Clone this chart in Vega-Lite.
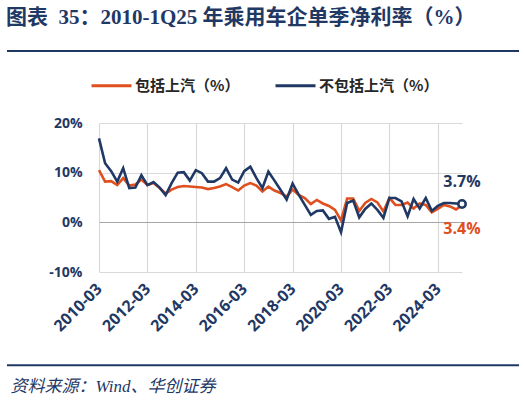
{
  "$schema": "https://vega.github.io/schema/vega-lite/v6.json",
  "background": "white",
  "padding": {"left": 5, "right": 7, "top": 7, "bottom": 3},
  "width": 363,
  "height": 149,
  "title": {
    "text": "图表\u00a0\u00a035：2010-1Q25 年乘用车企单季净利率（%）",
    "anchor": "start",
    "frame": "bounds",
    "font": "Liberation Serif, Noto Sans CJK SC",
    "fontSize": 21,
    "fontWeight": "bold",
    "color": "#1F3864",
    "offset": 13
  },
  "config": {"view": {"stroke": null}},
  "layer": [
    {
      "data": {"values": [{}]},
      "mark": {"type": "rule", "color": "#1F3864", "strokeWidth": 2, "opacity": 0},
      "encoding": {
        "x": {"datum": {"year": 2006, "month": 5, "date": 12}, "type": "temporal"},
        "x2": {"datum": {"year": 2027, "month": 7, "date": 10}},
        "y": {"datum": 36.5, "type": "quantitative"}
      }
    },
    {
      "data": {"values": [{}]},
      "mark": {"type": "rule", "color": "#1F3864", "strokeWidth": 2},
      "encoding": {
        "x": {"datum": {"year": 2006, "month": 5, "date": 12}, "type": "temporal"},
        "x2": {"datum": {"year": 2027, "month": 7, "date": 10}},
        "y": {"datum": 34.5, "type": "quantitative"}
      }
    },
    {
      "data": {"values": [{}]},
      "mark": {"type": "rule", "color": "#1F3864", "strokeWidth": 2},
      "encoding": {
        "x": {"datum": {"year": 2006, "month": 5, "date": 12}, "type": "temporal"},
        "x2": {"datum": {"year": 2027, "month": 7, "date": 10}},
        "y": {"datum": -28.8, "type": "quantitative"}
      }
    },
    {
      "data": {
        "format": {"parse": {"date": "date:'%Y-%m'"}},
        "values": [
          {"date": "2010-03", "包括上汽（%）": 10.5, "不包括上汽（%）": 16.9},
          {"date": "2010-06", "包括上汽（%）": 8.2, "不包括上汽（%）": 11.9},
          {"date": "2010-09", "包括上汽（%）": 8.3, "不包括上汽（%）": 10.3},
          {"date": "2010-12", "包括上汽（%）": 7.5, "不包括上汽（%）": 8.2},
          {"date": "2011-03", "包括上汽（%）": 8.9, "不包括上汽（%）": 10.9},
          {"date": "2011-06", "包括上汽（%）": 7.4, "不包括上汽（%）": 6.9},
          {"date": "2011-09", "包括上汽（%）": 7.6, "不包括上汽（%）": 7.0},
          {"date": "2011-12", "包括上汽（%）": 8.6, "不包括上汽（%）": 9.5},
          {"date": "2012-03", "包括上汽（%）": 7.5, "不包括上汽（%）": 7.5},
          {"date": "2012-06", "包括上汽（%）": 7.9, "不包括上汽（%）": 8.1},
          {"date": "2012-09", "包括上汽（%）": 6.9, "不包括上汽（%）": 7.0},
          {"date": "2012-12", "包括上汽（%）": 5.8, "不包括上汽（%）": 5.5},
          {"date": "2013-03", "包括上汽（%）": 6.6, "不包括上汽（%）": 7.9},
          {"date": "2013-06", "包括上汽（%）": 7.1, "不包括上汽（%）": 10.0},
          {"date": "2013-09", "包括上汽（%）": 7.3, "不包括上汽（%）": 10.1},
          {"date": "2013-12", "包括上汽（%）": 7.2, "不包括上汽（%）": 8.4},
          {"date": "2014-03", "包括上汽（%）": 7.1, "不包括上汽（%）": 10.5},
          {"date": "2014-06", "包括上汽（%）": 7.0, "不包括上汽（%）": 9.9},
          {"date": "2014-09", "包括上汽（%）": 6.7, "不包括上汽（%）": 8.2},
          {"date": "2014-12", "包括上汽（%）": 6.9, "不包括上汽（%）": 8.2},
          {"date": "2015-03", "包括上汽（%）": 7.2, "不包括上汽（%）": 8.9},
          {"date": "2015-06", "包括上汽（%）": 7.7, "不包括上汽（%）": 10.9},
          {"date": "2015-09", "包括上汽（%）": 7.1, "不包括上汽（%）": 8.6},
          {"date": "2015-12", "包括上汽（%）": 6.4, "不包括上汽（%）": 8.0},
          {"date": "2016-03", "包括上汽（%）": 7.4, "不包括上汽（%）": 10.3},
          {"date": "2016-06", "包括上汽（%）": 7.9, "不包括上汽（%）": 11.2},
          {"date": "2016-09", "包括上汽（%）": 7.4, "不包括上汽（%）": 8.9},
          {"date": "2016-12", "包括上汽（%）": 6.2, "不包括上汽（%）": 6.9},
          {"date": "2017-03", "包括上汽（%）": 7.2, "不包括上汽（%）": 10.2},
          {"date": "2017-06", "包括上汽（%）": 6.4, "不包括上汽（%）": 8.4},
          {"date": "2017-09", "包括上汽（%）": 5.9, "不包括上汽（%）": 6.5},
          {"date": "2017-12", "包括上汽（%）": 5.2, "不包括上汽（%）": 4.6},
          {"date": "2018-03", "包括上汽（%）": 6.6, "不包括上汽（%）": 7.8},
          {"date": "2018-06", "包括上汽（%）": 5.5, "不包括上汽（%）": 5.6},
          {"date": "2018-09", "包括上汽（%）": 4.9, "不包括上汽（%）": 3.5},
          {"date": "2018-12", "包括上汽（%）": 3.7, "不包括上汽（%）": 1.5},
          {"date": "2019-03", "包括上汽（%）": 4.5, "不包括上汽（%）": 2.3},
          {"date": "2019-06", "包括上汽（%）": 3.8, "不包括上汽（%）": 2.4},
          {"date": "2019-09", "包括上汽（%）": 3.3, "不包括上汽（%）": 0.7},
          {"date": "2019-12", "包括上汽（%）": 2.5, "不包括上汽（%）": 1.1},
          {"date": "2020-03", "包括上汽（%）": 0.4, "不包括上汽（%）": -2.0},
          {"date": "2020-06", "包括上汽（%）": 4.8, "不包括上汽（%）": 3.9},
          {"date": "2020-09", "包括上汽（%）": 4.8, "不包括上汽（%）": 4.4},
          {"date": "2020-12", "包括上汽（%）": 2.3, "不包括上汽（%）": 1.0},
          {"date": "2021-03", "包括上汽（%）": 3.9, "不包括上汽（%）": 2.7},
          {"date": "2021-06", "包括上汽（%）": 4.7, "不包括上汽（%）": 3.8},
          {"date": "2021-09", "包括上汽（%）": 4.0, "不包括上汽（%）": 2.5},
          {"date": "2021-12", "包括上汽（%）": 2.2, "不包括上汽（%）": 0.9},
          {"date": "2022-03", "包括上汽（%）": 4.9, "不包括上汽（%）": 4.9},
          {"date": "2022-06", "包括上汽（%）": 3.5, "不包括上汽（%）": 4.9},
          {"date": "2022-09", "包括上汽（%）": 3.5, "不包括上汽（%）": 4.2},
          {"date": "2022-12", "包括上汽（%）": 4.0, "不包括上汽（%）": 1.2},
          {"date": "2023-03", "包括上汽（%）": 2.8, "不包括上汽（%）": 4.7},
          {"date": "2023-06", "包括上汽（%）": 3.8, "不包括上汽（%）": 2.8},
          {"date": "2023-09", "包括上汽（%）": 3.5, "不包括上汽（%）": 4.9},
          {"date": "2023-12", "包括上汽（%）": 2.0, "不包括上汽（%）": 2.3},
          {"date": "2024-03", "包括上汽（%）": 2.7, "不包括上汽（%）": 3.3},
          {"date": "2024-06", "包括上汽（%）": 3.5, "不包括上汽（%）": 3.9},
          {"date": "2024-09", "包括上汽（%）": 3.2, "不包括上汽（%）": 3.9},
          {"date": "2024-12", "包括上汽（%）": 2.6, "不包括上汽（%）": 3.8},
          {"date": "2025-03", "包括上汽（%）": 3.4, "不包括上汽（%）": 3.7}
        ]
      },
      "transform": [{"fold": ["包括上汽（%）", "不包括上汽（%）"], "as": ["series", "value"]}],
      "encoding": {
        "x": {
          "field": "date",
          "type": "temporal",
          "scale": {"domain": [{"year": 2010, "month": 3, "date": 1}, {"year": 2025, "month": 3, "date": 1}], "nice": false},
          "axis": {
            "title": "资料来源：Wind、华创证券",
            "titleX": -89,
            "titleY": 114,
            "titleAlign": "left",
            "titleBaseline": "middle",
            "titleFont": "Liberation Serif, Noto Sans CJK SC",
            "titleFontSize": 17,
            "titleFontStyle": "italic",
            "titleFontWeight": "normal",
            "titleColor": "#1F3864",
            "values": [
              {"year": 2010, "month": 3, "date": 1}, {"year": 2011, "month": 3, "date": 1},
              {"year": 2012, "month": 3, "date": 1}, {"year": 2013, "month": 3, "date": 1},
              {"year": 2014, "month": 3, "date": 1}, {"year": 2015, "month": 3, "date": 1},
              {"year": 2016, "month": 3, "date": 1}, {"year": 2017, "month": 3, "date": 1},
              {"year": 2018, "month": 3, "date": 1}, {"year": 2019, "month": 3, "date": 1},
              {"year": 2020, "month": 3, "date": 1}, {"year": 2021, "month": 3, "date": 1},
              {"year": 2022, "month": 3, "date": 1}, {"year": 2023, "month": 3, "date": 1},
              {"year": 2024, "month": 3, "date": 1}, {"year": 2025, "month": 3, "date": 1}
            ],
            "labelExpr": "year(datum.value) % 2 === 0 && year(datum.value) < 2025 ? timeFormat(datum.value, '%Y-%m') : ''",
            "labelAngle": -45,
            "labelAlign": "right",
            "labelBaseline": "middle",
            "labelFont": "Open Sans",
            "labelFontSize": 16,
            "labelFontWeight": "bold",
            "labelColor": "#1F3864",
            "labelPadding": 14,
            "labelOverlap": false,
            "labelFlush": false,
            "labelBound": false,
            "ticks": false,
            "domain": false,
            "grid": true,
            "gridColor": "#D9D9D9",
            "gridWidth": 1.2
          }
        },
        "y": {
          "field": "value",
          "type": "quantitative",
          "scale": {"domain": [-10, 20], "nice": false},
          "axis": {
            "title": null,
            "values": [-10, 0, 10, 20],
            "labelExpr": "datum.value + '%'",
            "labelFont": "Open Sans",
            "labelFontSize": 14,
            "labelFontWeight": "bold",
            "labelColor": "#1F3864",
            "labelPadding": 17,
            "ticks": false,
            "domain": false,
            "grid": true,
            "gridColor": {"condition": {"test": "datum.value === 0", "value": "#A6A6A6"}, "value": "#D9D9D9"},
            "gridWidth": 1.2
          }
        }
      },
      "layer": [
        {
          "mark": {"type": "line", "strokeWidth": 2.6},
          "encoding": {
            "color": {
              "field": "series",
              "type": "nominal",
              "scale": {"domain": ["包括上汽（%）", "不包括上汽（%）"], "range": ["#E0501E", "#1F3864"]},
              "legend": {
                "orient": "none",
                "direction": "horizontal",
                "legendX": -9,
                "legendY": -59,
                "title": null,
                "padding": 0,
                "symbolType": "stroke",
                "symbolSize": 1600,
                "symbolStrokeWidth": 3,
                "labelFont": "Noto Sans CJK SC",
                "labelFontSize": 15,
                "labelFontWeight": "bold",
                "labelColor": "#262626",
                "labelOffset": 2,
                "labelLimit": 200,
                "columnPadding": 29
              }
            }
          }
        },
        {
          "transform": [{"filter": "datum.series === '不包括上汽（%）' && year(datum.date) === 2025"}],
          "mark": {"type": "point", "filled": true, "fill": "white", "stroke": "#1F3864", "strokeWidth": 2.5, "size": 55, "opacity": 1}
        },
        {
          "transform": [
            {"filter": "datum.series === '不包括上汽（%）' && year(datum.date) === 2025"},
            {"calculate": "format(datum.value, '.1f') + '%'", "as": "label"}
          ],
          "mark": {"type": "text", "dy": -22, "font": "Open Sans", "fontSize": 16, "fontWeight": "bold", "color": "#1F3864"},
          "encoding": {"text": {"field": "label"}}
        },
        {
          "transform": [
            {"filter": "datum.series === '包括上汽（%）' && year(datum.date) === 2025"},
            {"calculate": "format(datum.value, '.1f') + '%'", "as": "label"}
          ],
          "mark": {"type": "text", "dy": 24, "font": "Open Sans", "fontSize": 16, "fontWeight": "bold", "color": "#E0501E"},
          "encoding": {"text": {"field": "label"}}
        }
      ]
    }
  ]
}
